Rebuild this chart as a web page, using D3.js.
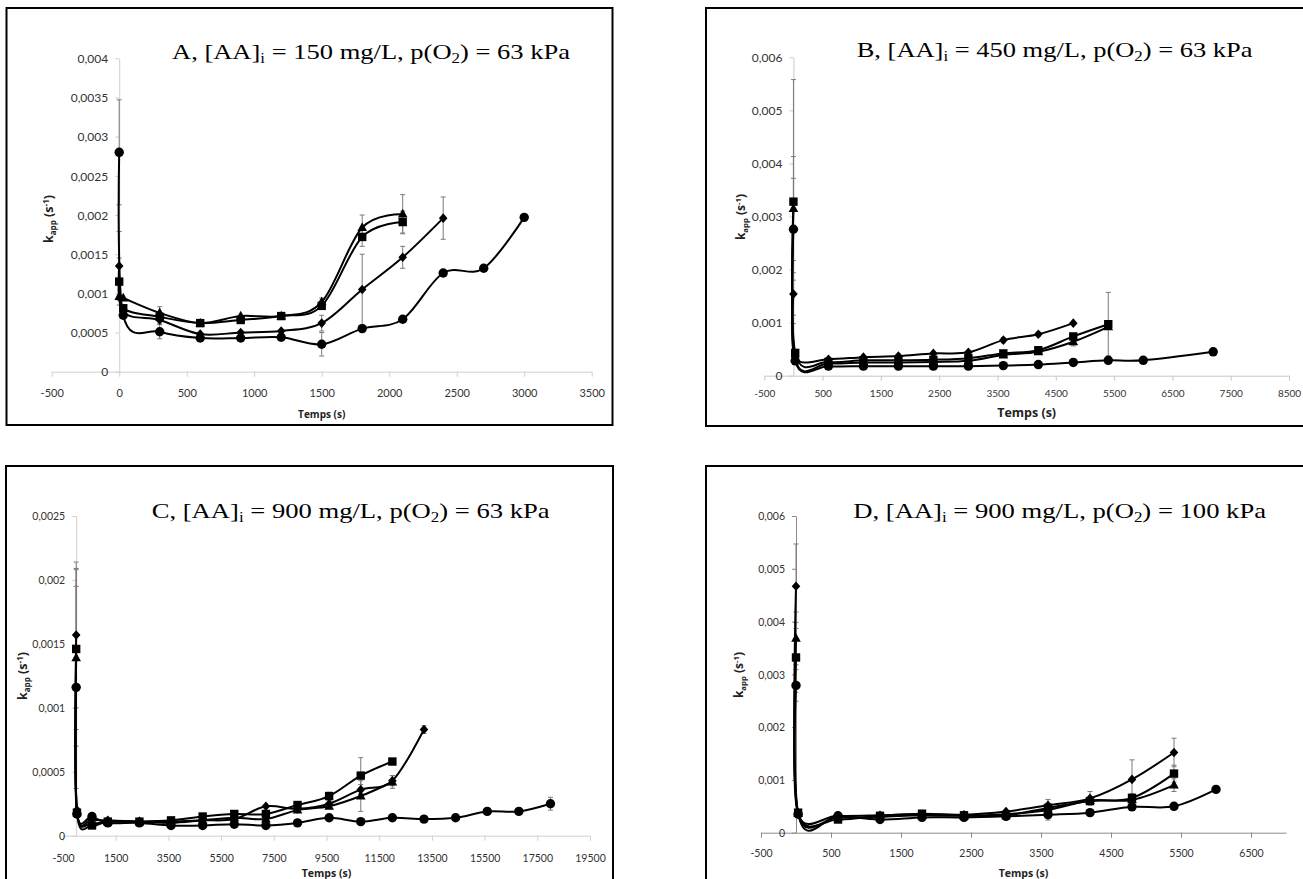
<!DOCTYPE html>
<html><head><meta charset="utf-8">
<script src="https://cdn.jsdelivr.net/npm/d3@7"></script>
<style>body{margin:0;background:#fff}svg{display:block}</style>
</head><body>
<svg id="c" width="1303" height="879"></svg>
<script>
// ---------------- DATA ----------------
// Panel A : [AA]i = 150 mg/L, p(O2) = 63 kPa
const A_times    = [0, 30, 300, 600, 900, 1200, 1500, 1800, 2100, 2400, 2700, 3000];
const A_diamond  = [0.00135, 0.00077, 0.00066, 0.00048, 0.00050, 0.00052, 0.00062, 0.00105, 0.00146, 0.00196, null, null];
const A_square   = [0.00115, 0.00081, 0.00070, 0.00062, 0.00066, 0.00071, 0.00084, 0.00172, 0.00191, null, null, null];
const A_triangle = [0.00096, 0.00094, 0.00075, 0.00062, 0.00071, 0.00071, 0.00089, 0.00184, 0.00201, null, null, null];
const A_circle   = [0.00280, 0.00072, 0.00051, 0.00043, 0.00043, 0.00044, 0.00035, 0.00055, 0.00067, 0.00126, 0.00132, 0.00197];
const A_diamond_err  = [0.00044, 0, 0.00005, 0, 0, 0, 0.00010, 0.00045, 0.00014, 0.00027, 0, 0];
const A_square_err   = [0.00030, 0, 0, 0, 0, 0, 0, 0.00012, 0.00014, 0, 0, 0];
const A_triangle_err = [0, 0, 0.00008, 0, 0, 0, 0.00005, 0.00016, 0.00025, 0, 0, 0];
const A_circle_err   = [0.00067, 0, 0.00009, 0, 0, 0, 0.00015, 0, 0, 0, 0, 0];
const A_xticks = [-500, 0, 500, 1000, 1500, 2000, 2500, 3000, 3500];
const A_yticks = [0, 0.0005, 0.001, 0.0015, 0.002, 0.0025, 0.003, 0.0035, 0.004];

// Panel B : [AA]i = 450 mg/L, p(O2) = 63 kPa
const B_times    = [0, 30, 600, 1200, 1800, 2400, 3000, 3600, 4200, 4800, 5400, 6000, 7200];
const B_diamond  = [0.00154, 0.00035, 0.00031, 0.00035, 0.00037, 0.00042, 0.00044, 0.00067, 0.00078, 0.00099, null, null, null];
const B_square   = [0.00328, 0.00043, 0.00026, 0.00029, 0.00029, 0.00030, 0.00033, 0.00042, 0.00048, 0.00074, 0.00097, null, null];
const B_triangle = [0.00315, 0.00032, 0.00023, 0.00025, 0.00025, 0.00026, 0.00028, 0.00039, 0.00045, 0.00064, 0.00092, null, null];
const B_circle   = [0.00276, 0.00028, 0.00018, 0.00018, 0.00018, 0.00018, 0.00018, 0.00019, 0.00021, 0.00025, 0.00029, 0.00029, 0.00045];
const B_diamond_err  = [0.00040, 0, 0, 0, 0, 0, 0, 0.00005, 0.00004, 0, 0, 0, 0];
const B_square_err   = [0.00230, 0, 0, 0, 0, 0, 0, 0.00004, 0.00005, 0.00005, 0.00060, 0, 0];
const B_triangle_err = [0.00098, 0, 0, 0, 0, 0, 0, 0, 0.00004, 0.00008, 0, 0, 0];
const B_circle_err   = [0.00096, 0, 0, 0, 0, 0, 0, 0, 0, 0, 0, 0, 0];
const B_xticks = [-500, 500, 1500, 2500, 3500, 4500, 5500, 6500, 7500, 8500];
const B_yticks = [0, 0.001, 0.002, 0.003, 0.004, 0.005, 0.006];

// Panel C : [AA]i = 900 mg/L, p(O2) = 63 kPa
const C_times    = [0, 30, 600, 1200, 2400, 3600, 4800, 6000, 7200, 8400, 9600, 10800, 12000, 13200, 14400, 15600, 16800, 18000];
const C_diamond  = [0.00157, 0.00020, 0.00013, 0.00012, 0.00011, 0.00011, 0.00012, 0.00013, 0.00023, 0.00021, 0.00025, 0.00036, 0.00043, 0.00083, null, null, null, null];
const C_square   = [0.00146, 0.00018, 0.00008, 0.00011, 0.00011, 0.00012, 0.00015, 0.00017, 0.00017, 0.00024, 0.00031, 0.00047, 0.00058, null, null, null, null, null];
const C_triangle = [0.00139, 0.00019, 0.00010, 0.00011, 0.00011, 0.00010, 0.00012, 0.00014, 0.00013, 0.00020, 0.00023, 0.00031, 0.00042, null, null, null, null, null];
const C_circle   = [0.00116, 0.00017, 0.00015, 0.00010, 0.00010, 0.00008, 0.00008, 0.00009, 0.00008, 0.00010, 0.00014, 0.00011, 0.00014, 0.00013, 0.00014, 0.00019, 0.00019, 0.00025];
const C_diamond_err  = [0.00057, 0, 0, 0, 0, 0, 0, 0, 0, 0, 0.00003, 0.00004, 0.00004, 0.00003, 0, 0, 0, 0];
const C_square_err   = [0.00063, 0, 0, 0, 0, 0, 0, 0, 0, 0, 0.00003, 0.00014, 0, 0, 0, 0, 0, 0];
const C_triangle_err = [0.00069, 0, 0, 0, 0, 0, 0, 0, 0, 0, 0, 0.00012, 0.00005, 0, 0, 0, 0, 0];
const C_circle_err   = [0.00079, 0, 0, 0, 0, 0, 0, 0, 0, 0, 0, 0, 0, 0, 0, 0, 0, 0.00005];
const C_xticks = [-500, 1500, 3500, 5500, 7500, 9500, 11500, 13500, 15500, 17500, 19500];
const C_yticks = [0, 0.0005, 0.001, 0.0015, 0.002, 0.0025];

// Panel D : [AA]i = 900 mg/L, p(O2) = 100 kPa
const D_times    = [0, 30, 600, 1200, 1800, 2400, 3000, 3600, 4200, 4800, 5400, 6000];
const D_diamond  = [0.00467, 0.00037, 0.00032, 0.00033, 0.00035, 0.00034, 0.00040, 0.00052, 0.00065, 0.00101, 0.00152, null];
const D_square   = [0.00332, 0.00038, 0.00025, 0.00032, 0.00036, 0.00033, 0.00033, 0.00047, 0.00060, 0.00066, 0.00112, null];
const D_triangle = [0.00368, 0.00036, 0.00029, 0.00030, 0.00033, 0.00032, 0.00035, 0.00043, 0.00061, 0.00062, 0.00090, null];
const D_circle   = [0.00279, 0.00035, 0.00032, 0.00025, 0.00029, 0.00029, 0.00031, 0.00034, 0.00038, 0.00049, 0.00050, 0.00082];
const D_diamond_err  = [0.00080, 0, 0, 0, 0, 0, 0, 0.00011, 0.00013, 0.00037, 0.00027, 0];
const D_square_err   = [0.00066, 0, 0, 0, 0, 0, 0, 0, 0, 0.00008, 0.00016, 0];
const D_triangle_err = [0.00050, 0, 0, 0, 0, 0, 0, 0, 0, 0, 0.00012, 0];
const D_circle_err   = [0.00030, 0, 0, 0, 0, 0, 0, 0.00010, 0, 0.00006, 0, 0];
const D_xticks = [-500, 500, 1500, 2500, 3500, 4500, 5500, 6500];
const D_yticks = [0, 0.001, 0.002, 0.003, 0.004, 0.005, 0.006];

const titles = [
  ["A, [AA]", "i", " = 150 mg/L, p(O", "2", ") = 63 kPa"],
  ["B, [AA]", "i", " = 450 mg/L, p(O", "2", ") = 63 kPa"],
  ["C, [AA]", "i", " = 900 mg/L, p(O", "2", ") = 63 kPa"],
  ["D, [AA]", "i", " = 900 mg/L, p(O", "2", ") = 100 kPa"]
];

// ---------------- LAYOUT ----------------
const panels = [
  { times: A_times, xTicks: A_xticks, yTicks: A_yticks, title: titles[0],
    series: [["diamond", A_diamond, A_diamond_err], ["square", A_square, A_square_err], ["triangle", A_triangle, A_triangle_err], ["circle", A_circle, A_circle_err]],
    xDom: [-500, 3500], xRange: [51.7, 591.7], yDom: [0, 0.004], yRange: [371.7, 58.3],
    frame: [6.5, 8, 606, 417], titleX: 172, titleY: 59, titleW: 398,
    tickFont: 11, yTickFont: 12, xLabY: 25, axisColor: "#d0d0d0",
    xTitleY: 418, xTitleFont: 10, yTitleX: 53, yTitleY: 219, yTitleFont: 12.5 },
  { times: B_times, xTicks: B_xticks, yTicks: B_yticks, title: titles[1],
    series: [["diamond", B_diamond, B_diamond_err], ["square", B_square, B_square_err], ["triangle", B_triangle, B_triangle_err], ["circle", B_circle, B_circle_err]],
    xDom: [-500, 8500], xRange: [764.3, 1289], yDom: [0, 0.006], yRange: [375.7, 57.3],
    frame: [706, 8, 620, 418], titleX: 856.7, titleY: 56.7, titleW: 396,
    tickFont: 10, yTickFont: 12, xLabY: 21, axisColor: "#c8c8c8",
    xTitleY: 417, xTitleFont: 12.5, yTitleX: 745, yTitleY: 217, yTitleFont: 12 },
  { times: C_times, xTicks: C_xticks, yTicks: C_yticks, title: titles[2],
    series: [["diamond", C_diamond, C_diamond_err], ["square", C_square, C_square_err], ["triangle", C_triangle, C_triangle_err], ["circle", C_circle, C_circle_err]],
    xDom: [-500, 19500], xRange: [63, 590], yDom: [0, 0.0025], yRange: [835.7, 516],
    frame: [6, 466, 607, 430], titleX: 151.7, titleY: 518.3, titleW: 398,
    tickFont: 10.5, yTickFont: 10.5, xLabY: 26, axisColor: "#d0d0d0",
    xTitleY: 876.5, xTitleFont: 10.5, yTitleX: 27, yTitleY: 676, yTitleFont: 12.5 },
  { times: D_times, xTicks: D_xticks, yTicks: D_yticks, title: titles[3],
    series: [["diamond", D_diamond, D_diamond_err], ["square", D_square, D_square_err], ["triangle", D_triangle, D_triangle_err], ["circle", D_circle, D_circle_err]],
    xDom: [-500, 7000], xRange: [761, 1286], yDom: [0, 0.006], yRange: [832.7, 516],
    frame: [706, 466, 620, 430], titleX: 853.3, titleY: 518.3, titleW: 413,
    tickFont: 10.5, yTickFont: 10.5, xLabY: 24.5, axisColor: "#8a8a8a",
    xTitleY: 877, xTitleFont: 10.5, yTitleX: 743, yTitleY: 675, yTitleFont: 12 }
];

const svg = d3.select("#c");
function fmt(v) { return v === 0 ? "0" : String(+v.toFixed(6)).replace(".", ","); }

function markerPath(shape) {
  if (shape === "circle") return d3.symbol(d3.symbolCircle, Math.PI * 4.7 * 4.7)();
  if (shape === "square") return "M-4.2,-4.2H4.2V4.2H-4.2Z";
  if (shape === "triangle") return "M0,-5.4L4.8,3.4H-4.8Z";
  return "M0,-4.8L4.3,0L0,4.8L-4.3,0Z";
}

panels.forEach(p => {
  const g = svg.append("g");
  const x = d3.scaleLinear().domain(p.xDom).range(p.xRange);
  const y = d3.scaleLinear().domain(p.yDom).range(p.yRange);

  // frame
  g.append("rect").attr("x", p.frame[0]).attr("y", p.frame[1]).attr("width", p.frame[2]).attr("height", p.frame[3])
    .attr("fill", "none").attr("stroke", "#000").attr("stroke-width", 2);

  // x axis
  const xa = g.append("g").attr("transform", `translate(0,${y(0)})`)
    .call(d3.axisBottom(x).tickValues(p.xTicks).tickSize(5).tickSizeOuter(0).tickFormat(fmt));
  xa.select(".domain").attr("stroke", p.axisColor);
  xa.selectAll(".tick line").attr("stroke", p.axisColor);
  xa.selectAll(".tick text").attr("y", p.xLabY).attr("dy", 0)
    .attr("font-family", "Lato, 'Open Sans', sans-serif").attr("font-size", p.tickFont).attr("fill", "#333");

  // y axis
  const ya = g.append("g").attr("transform", `translate(${x(0)},0)`)
    .call(d3.axisLeft(y).tickValues(p.yTicks).tickSize(4).tickSizeOuter(0).tickFormat(fmt));
  ya.select(".domain").attr("stroke", p.axisColor);
  ya.selectAll(".tick line").attr("stroke", p.axisColor);
  ya.selectAll(".tick text").attr("x", -11).attr("dy", "0.35em")
    .attr("font-family", "Lato, 'Open Sans', sans-serif").attr("font-size", p.yTickFont).attr("fill", "#333");

  // axis titles
  g.append("text").attr("x", (p.xRange[0] + p.xRange[1]) / 2).attr("y", p.xTitleY)
    .attr("text-anchor", "middle").attr("font-family", "'Open Sans', sans-serif").attr("font-weight", "bold")
    .attr("font-size", p.xTitleFont).attr("fill", "#222").text("Temps (s)");
  const yt = g.append("text").attr("transform", `translate(${p.yTitleX},${p.yTitleY}) rotate(-90)`)
    .attr("text-anchor", "middle").attr("font-family", "'Open Sans', sans-serif").attr("font-weight", "bold")
    .attr("font-size", p.yTitleFont).attr("fill", "#222");
  yt.append("tspan").text("k");
  yt.append("tspan").attr("font-size", p.yTitleFont * 0.65).attr("dy", 3).text("app");
  yt.append("tspan").attr("dy", -3).text(" (s");
  yt.append("tspan").attr("font-size", p.yTitleFont * 0.65).attr("dy", -4.5).text("-1");
  yt.append("tspan").attr("dy", 4.5).text(")");

  // chart title (stretched horizontally to the reference width)
  const tg = g.append("g");
  const tt = tg.append("text").attr("x", 0).attr("y", 0)
    .attr("font-family", "'Liberation Serif', 'Times New Roman', serif").attr("font-size", 22).attr("fill", "#000");
  tt.append("tspan").text(p.title[0]);
  tt.append("tspan").attr("font-size", 14).attr("dy", 4).text(p.title[1]);
  tt.append("tspan").attr("dy", -4).text(p.title[2]);
  tt.append("tspan").attr("font-size", 14).attr("dy", 4).text(p.title[3]);
  tt.append("tspan").attr("dy", -4).text(p.title[4]);
  const w = tt.node().getComputedTextLength();
  tg.attr("transform", `translate(${p.titleX},${p.titleY}) scale(${p.titleW / w},1)`);

  const data = p.series.map(([shape, vals, errs]) => ({
    shape,
    pts: p.times.map((t, i) => ({ t, v: vals[i], e: errs[i] })).filter(d => d.v != null)
  }));

  const line = d3.line().x(d => x(d.t)).y(d => y(d.v)).curve(d3.curveCatmullRom.alpha(0));

  // error bars
  data.forEach(s => {
    const eb = s.pts.filter(d => d.e > 0);
    const ge = g.append("g").attr("stroke", "#7a7a7a").attr("stroke-width", 1);
    ge.selectAll("line.v").data(eb).join("line").attr("x1", d => x(d.t)).attr("x2", d => x(d.t))
      .attr("y1", d => y(d.v - d.e)).attr("y2", d => y(d.v + d.e));
    ge.selectAll("line.t").data(eb).join("line").attr("x1", d => x(d.t) - 2.5).attr("x2", d => x(d.t) + 2.5)
      .attr("y1", d => y(d.v + d.e)).attr("y2", d => y(d.v + d.e));
    ge.selectAll("line.b").data(eb).join("line").attr("x1", d => x(d.t) - 2.5).attr("x2", d => x(d.t) + 2.5)
      .attr("y1", d => y(d.v - d.e)).attr("y2", d => y(d.v - d.e));
  });

  // lines
  data.forEach(s => {
    g.append("path").attr("d", line(s.pts)).attr("fill", "none").attr("stroke", "#000").attr("stroke-width", 2);
  });

  // markers
  data.forEach(s => {
    g.append("g").selectAll("path").data(s.pts).join("path")
      .attr("d", markerPath(s.shape)).attr("transform", d => `translate(${x(d.t)},${y(d.v)})`)
      .attr("fill", "#000");
  });
});
</script>
</body></html>
